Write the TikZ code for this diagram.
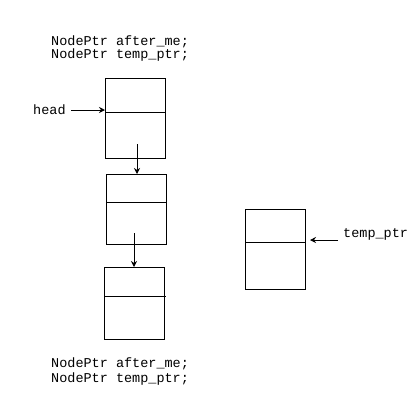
\documentclass[tikz,border=0pt]{standalone}
\usepackage{fontspec}
\setmonofont{Liberation Mono}
\usetikzlibrary{arrows.meta}
\begin{document}
\begin{tikzpicture}[x=1pt,y=-1pt,
  cell/.style={draw, line width=1pt, minimum width=60pt, anchor=north west, inner sep=0pt},
  lbl/.style={font=\ttfamily\fontsize{13.5}{15}\selectfont, anchor=base west, inner sep=0pt},
  ptr/.style={-{Stealth[length=6pt,width=6pt]}, line width=1pt},
  divl/.style={line width=1pt}]
\useasboundingbox (0,0) rectangle (419,400);
% declarations
\node[lbl] (t1) at (51,45) {NodePtr after\_me;};
\node[lbl] (t2) at (51,58.5) {NodePtr temp\_ptr;};
\node[lbl] (t3) at (51,367.5) {NodePtr after\_me;};
\node[lbl] (t4) at (51,382) {NodePtr temp\_ptr;};
% boxes
\node[cell, minimum height=80pt] (b1) at (105,78) {};
\node[cell, minimum height=70pt] (b2) at (106,174) {};
\node[cell, minimum height=72pt] (b3) at (104,267) {};
\node[cell, minimum height=80pt] (b4) at (245,209) {};
\draw[divl] (105,112) -- (165,112);
\draw[divl] (106,202) -- (166,202);
\draw[divl] (104,296) -- (166,296);
\draw[divl] (245,242) -- (305,242);
% links
\coordinate (a1) at (137,144);
\coordinate (a2) at (134,233);
\draw[ptr] (a1) -- (a1 |- b2.north);
\draw[ptr] (a2) -- (a2 |- b3.north);
% head
\node[lbl] (head) at (33,114) {head};
\coordinate (hstart) at (71,110);
\draw[ptr] (hstart) -- (hstart -| b1.west);
% temp_ptr
\node[lbl] (tp) at (343,237) {temp\_ptr};
\coordinate (tpstart) at (338,240);
\coordinate (tpend) at (310,240);
\draw[ptr] (tpstart) -- (tpend);
\end{tikzpicture}
\end{document}
